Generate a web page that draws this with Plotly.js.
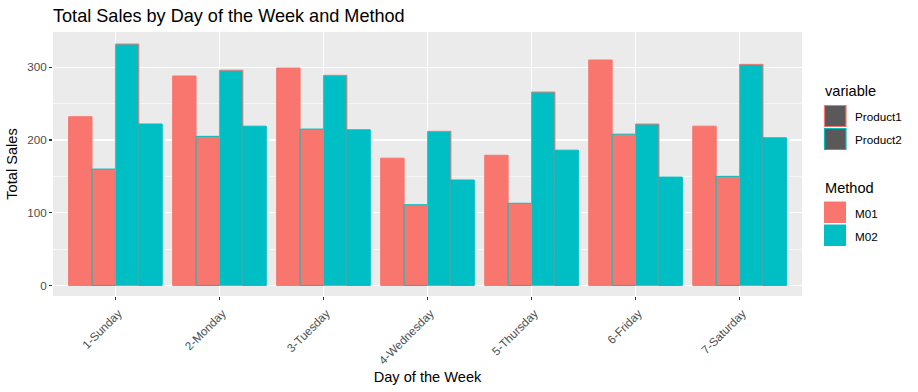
<!DOCTYPE html>
<html>
<head>
<meta charset="utf-8">
<script src="https://cdn.plot.ly/plotly-3.0.1.min.js"></script>
<style>html,body{margin:0;padding:0;background:#fff;}#chart{width:918px;height:392px;}</style>
</head>
<body>
<div id="chart"></div>
<script>
// ---- data ----
const days = ['1-Sunday','2-Monday','3-Tuesday','4-Wednesday','5-Thursday','6-Friday','7-Saturday'];
const product1_M01 = [232, 288, 299, 175, 179, 310, 219];
const product2_M01 = [160, 205, 215, 111, 113, 208, 150];
const product1_M02 = [332, 296, 289, 212, 266, 222, 304];
const product2_M02 = [222, 219, 214, 145, 186, 149, 203];
const variableLevels = ['Product1', 'Product2'];
const methodLevels = ['M01', 'M02'];

// ---- style ----
const RED = '#F8766D', TEAL = '#00BFC4';
const FONT = 'Liberation Sans, Arial, sans-serif';
const PL = 53, PR = 802, PT = 32, PB = 296; // panel pixel box
const px = x => (x - PL) / (PR - PL);
const py = y => (PB - y) / (PB - PT);

function barTrace(y, fill, line, name) {
  return {type:'bar', x: days, y: y, name: name,
    marker:{color: fill, line:{color: line, width: 1}}, showlegend:false};
}
const traces = [
  barTrace(product1_M01, RED, RED, 'Product1 / M01'),
  barTrace(product2_M01, RED, TEAL, 'Product2 / M01'),
  barTrace(product1_M02, TEAL, RED, 'Product1 / M02'),
  barTrace(product2_M02, TEAL, TEAL, 'Product2 / M02')
];

// ---- manual ggplot-style legends ----
const shapes = [], annotations = [];
function key(x0, y0, x1, y1, fill, line) {
  shapes.push({type:'rect', xref:'paper', yref:'paper', x0:px(x0), x1:px(x1), y0:py(y1), y1:py(y0),
    fillcolor: fill, line:{color: line, width: line === 'rgba(0,0,0,0)' ? 0 : 1.2}, layer:'above'});
}
function text(x, y, s, size) {
  annotations.push({xref:'paper', yref:'paper', x:px(x), y:py(y), text:s, showarrow:false,
    xanchor:'left', yanchor:'middle', font:{family:FONT, size:size, color:'#000'}});
}
text(823, 91, 'variable', 14.6);
key(824.5, 105.5, 846, 126.5, '#595959', RED);
key(824.5, 128.5, 846, 149.5, '#595959', TEAL);
text(853, 116, variableLevels[0], 11.7);
text(853, 139.5, variableLevels[1], 11.7);
text(823, 188, 'Method', 14.6);
key(824, 201.5, 846, 223, RED, 'rgba(0,0,0,0)');
key(824, 224.5, 846, 246, TEAL, 'rgba(0,0,0,0)');
text(853, 213, methodLevels[0], 11.7);
text(853, 236, methodLevels[1], 11.7);

const layout = {
  width: 918, height: 392,
  margin: {l: PL, r: 918 - PR, t: PT, b: 392 - PB},
  paper_bgcolor: '#FFFFFF', plot_bgcolor: '#EBEBEB',
  font: {family: FONT},
  barmode: 'group', bargap: 0.1, bargroupgap: 0,
  title: {text: 'Total Sales by Day of the Week and Method', x: 53/918, xref:'container', xanchor:'left',
          y: 1 - 16/392, yanchor:'middle', font:{family: FONT, size: 18.1, color:'#000'}},
  xaxis: {type:'category', range:[-0.6, 6.6], showgrid:true, gridcolor:'#FFFFFF', gridwidth:1.07,
          zeroline:false, showline:false, ticks:'outside', ticklen:3, tickwidth:1.07, tickcolor:'#333333',
          tickangle:-45, ticklabelshift:3, ticklabelstandoff:2,
          tickfont:{family: FONT, size:11.7, color:'#4D4D4D'},
          title:{text:'Day of the Week', font:{family: FONT, size:14.6, color:'#000'}}},
  yaxis: {range:[-14.5, 348.5], tickvals:[0,100,200,300], showgrid:true, gridcolor:'#FFFFFF', gridwidth:1.07,
          minor:{tickvals:[50,150,250], showgrid:true, gridcolor:'#FFFFFF', gridwidth:0.53, ticks:''},
          zeroline:false, showline:false, ticks:'outside', ticklen:3, tickwidth:1.07, tickcolor:'#333333',
          tickfont:{family: FONT, size:11.7, color:'#4D4D4D'},
          title:{text:'Total Sales', standoff:6, font:{family: FONT, size:14.6, color:'#000'}}},
  shapes: shapes, annotations: annotations, showlegend:false
};
Plotly.newPlot('chart', traces, layout, {displayModeBar:false, staticPlot:true});
</script>
</body>
</html>
